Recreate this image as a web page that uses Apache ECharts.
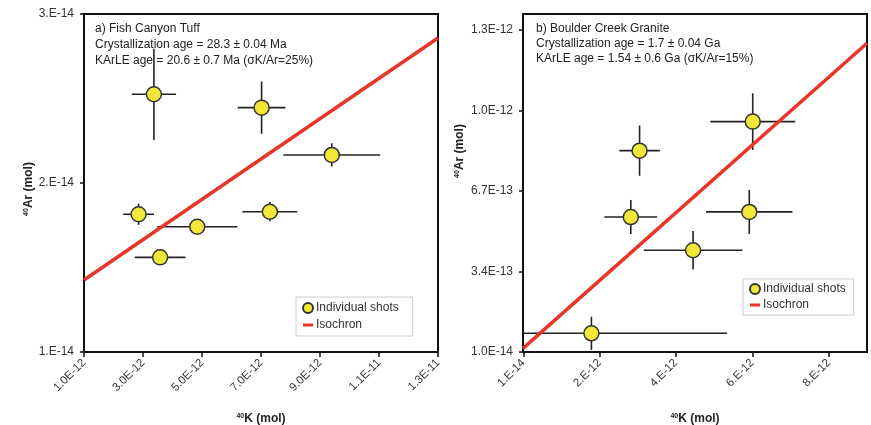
<!DOCTYPE html>
<html>
<head>
<meta charset="utf-8">
<script src="https://cdn.jsdelivr.net/npm/echarts@6/dist/echarts.min.js"></script>
<style>
  html, body { margin: 0; padding: 0; background: #fff; }
  #chart { width: 871px; height: 425px; }
</style>
</head>
<body>
<div id="chart"></div>
<script>
// a) Fish Canyon Tuff : K in 1E-12 mol, Ar in 1E-14 mol
var fishK = [3.37, 7.02, 9.40, 2.85, 7.30, 4.84, 3.58];
var fishAr = [2.525, 2.446, 2.166, 1.815, 1.830, 1.741, 1.560];
var fishKErr = [0.75, 0.81, 1.64, 0.52, 0.93, 1.36, 0.86];
var fishArErr = [0.27, 0.155, 0.069, 0.063, 0.057, 0.02, 0.01];
var fishIso = [[1, 1.426], [13, 2.858]];
var fishKTicks = [1, 3, 5, 7, 9, 11, 13];
var fishKLabels = ['1.0E-12', '3.0E-12', '5.0E-12', '7.0E-12', '9.0E-12', '1.1E-11', '1.3E-11'];
var fishArTicks = [1, 2, 3];
var fishArLabels = ['1.E-14', '2.E-14', '3.E-14'];

// b) Boulder Creek Granite : K in 1E-12 mol, Ar in 1E-14 mol
var bcK = [6.01, 3.05, 2.82, 5.92, 4.45, 1.79];
var bcAr = [95.4, 83.5, 56.3, 58.4, 42.7, 8.66];
var bcKErr = [1.11, 0.53, 0.69, 1.13, 1.29, 3.55];
var bcArErr = [11.6, 10.3, 7.0, 9.0, 7.9, 6.8];
var bcIso = [[0, 2.5], [9, 127.5]];
var bcKTicks = [0.01, 2, 4, 6, 8];
var bcKLabels = ['1.E-14', '2.E-12', '4.E-12', '6.E-12', '8.E-12'];
var bcArTicks = [1, 34, 67, 100, 133];
var bcArLabels = ['1.0E-14', '3.4E-13', '6.7E-13', '1.0E-12', '1.3E-12'];

var FONT = '"Liberation Sans", Arial, sans-serif';
var chart = echarts.init(document.getElementById('chart'), null, { renderer: 'canvas' });

function errBars(params, api) {
  var x = api.value(0), y = api.value(1), ex = api.value(2), ey = api.value(3);
  var l = api.coord([x - ex, y]), r = api.coord([x + ex, y]);
  var b = api.coord([x, y - ey]), t = api.coord([x, y + ey]);
  var st = { stroke: '#222', lineWidth: 1.6 };
  return {
    type: 'group',
    children: [
      { type: 'line', shape: { x1: l[0], y1: l[1], x2: r[0], y2: r[1] }, style: st },
      { type: 'line', shape: { x1: b[0], y1: b[1], x2: t[0], y2: t[1] }, style: st }
    ]
  };
}

function pts(xs, ys) {
  return xs.map(function (v, i) { return [v, ys[i]]; });
}
function errs(xs, ys, ex, ey) {
  return xs.map(function (v, i) { return [v, ys[i], ex[i], ey[i]]; });
}

function xAxis(idx, min, max, ticks, labels) {
  return {
    type: 'value', gridIndex: idx, min: min, max: max,
    name: '{sup|40}K (mol)', nameLocation: 'middle', nameGap: 61,
    nameTextStyle: {
      fontFamily: FONT, fontSize: 12, fontWeight: 'bold', color: '#222',
      rich: { sup: { fontSize: 7, fontWeight: 'bold', verticalAlign: 'top', padding: [0, 0, 5, 0], color: '#222' } }
    },
    axisLine: { onZero: false, lineStyle: { color: '#111', width: 2 } },
    axisTick: { customValues: ticks, length: 5, lineStyle: { color: '#111', width: 1.5 } },
    axisLabel: {
      customValues: ticks, rotate: 45, margin: 9, fontFamily: FONT, fontSize: 11.5, color: '#333',
      formatter: function (v) { var i = ticks.indexOf(v); return i < 0 ? '' : labels[i]; }
    },
    splitLine: { show: false }
  };
}

function yAxis(idx, min, max, ticks, labels, gap, pad) {
  return {
    type: 'value', gridIndex: idx, min: min, max: max,
    name: '{sup|40}Ar (mol)', nameLocation: 'middle', nameGap: gap,
    nameTextStyle: {
      fontFamily: FONT, fontSize: 12, fontWeight: 'bold', color: '#222', padding: pad,
      rich: { sup: { fontSize: 7, fontWeight: 'bold', verticalAlign: 'top', padding: [0, 0, 5, 0], color: '#222' } }
    },
    axisLine: { onZero: false, lineStyle: { color: '#111', width: 2 } },
    axisTick: { customValues: ticks, length: 4, lineStyle: { color: '#111', width: 1.5 } },
    axisLabel: {
      customValues: ticks, margin: 10, fontFamily: FONT, fontSize: 12, color: '#333',
      formatter: function (v) { var i = ticks.indexOf(v); return i < 0 ? '' : labels[i]; }
    },
    splitLine: { show: false }
  };
}

var dotStyle = { color: '#f3e83a', borderColor: '#333', borderWidth: 1.5, opacity: 1 };
var isoStyle = { color: '#e8352a', width: 3.5 };

var option = {
  animation: false,
  backgroundColor: '#fff',
  title: [
    {
      text: 'a) Fish Canyon Tuff\nCrystallization age = 28.3 ± 0.04 Ma\nKArLE age = 20.6 ± 0.7 Ma (σK/Ar=25%)',
      left: 90, top: 16,
      textStyle: { fontFamily: FONT, fontSize: 12, fontWeight: 'normal', color: '#222', lineHeight: 16 }
    },
    {
      text: 'b) Boulder Creek Granite\nCrystallization age = 1.7 ± 0.04 Ga\nKArLE age = 1.54 ± 0.6 Ga (σK/Ar=15%)',
      left: 531, top: 16,
      textStyle: { fontFamily: FONT, fontSize: 12, fontWeight: 'normal', color: '#222', lineHeight: 15 }
    }
  ],
  legend: [
    {
      left: 296, top: 297, orient: 'vertical', itemGap: 5, itemWidth: 10, itemHeight: 10,
      padding: [5, 14, 5, 6], borderColor: '#ccc', borderWidth: 1,
      textStyle: { fontFamily: FONT, fontSize: 12, color: '#333', padding: [0, 0, 0, -2] },
      data: [
        { name: 'Individual shots', icon: 'circle' },
        { name: 'Isochron', icon: 'path://M0,4L10,4L10,7L0,7Z' }
      ]
    },
    {
      left: 743, top: 279, orient: 'vertical', itemGap: 4, itemWidth: 10, itemHeight: 10,
      padding: [4, 8, 4, 6], borderColor: '#ccc', borderWidth: 1,
      textStyle: { fontFamily: FONT, fontSize: 12, color: '#333', padding: [0, 0, 0, -2] },
      data: [
        { name: 'Individual shots', icon: 'circle' },
        { name: 'Isochron', icon: 'path://M0,4L10,4L10,7L0,7Z' }
      ]
    }
  ],
  grid: [
    { left: 84, top: 14, width: 354, height: 338, outerBoundsMode: 'none', containLabel: false,
      show: true, borderColor: '#111', borderWidth: 2 },
    { left: 523, top: 14, width: 344, height: 338, outerBoundsMode: 'none', containLabel: false,
      show: true, borderColor: '#111', borderWidth: 2 }
  ],
  xAxis: [
    xAxis(0, 1, 13, fishKTicks, fishKLabels),
    xAxis(1, 0, 9, bcKTicks, bcKLabels)
  ],
  yAxis: [
    yAxis(0, 1, 3, fishArTicks, fishArLabels, 48, [0, 0, 0, -12]),
    yAxis(1, 1, 139.5, bcArTicks, bcArLabels, 57, [0, 0, 0, 64])
  ],
  series: [
    {
      type: 'custom', name: 'err-a', xAxisIndex: 0, yAxisIndex: 0, clip: true, z: 2,
      renderItem: errBars, data: errs(fishK, fishAr, fishKErr, fishArErr)
    },
    {
      type: 'line', name: 'Isochron', xAxisIndex: 0, yAxisIndex: 0, z: 3,
      showSymbol: false, lineStyle: isoStyle, itemStyle: { color: isoStyle.color }, data: fishIso
    },
    {
      type: 'scatter', name: 'Individual shots', xAxisIndex: 0, yAxisIndex: 0, z: 4,
      symbolSize: 15, itemStyle: dotStyle, data: pts(fishK, fishAr)
    },
    {
      type: 'custom', name: 'err-b', xAxisIndex: 1, yAxisIndex: 1, clip: true, z: 2,
      renderItem: errBars, data: errs(bcK, bcAr, bcKErr, bcArErr)
    },
    {
      type: 'line', name: 'Isochron', xAxisIndex: 1, yAxisIndex: 1, z: 3,
      showSymbol: false, lineStyle: isoStyle, itemStyle: { color: isoStyle.color }, data: bcIso
    },
    {
      type: 'scatter', name: 'Individual shots', xAxisIndex: 1, yAxisIndex: 1, z: 4,
      symbolSize: 15, itemStyle: dotStyle, data: pts(bcK, bcAr)
    }
  ]
};

chart.setOption(option);
</script>
</body>
</html>
